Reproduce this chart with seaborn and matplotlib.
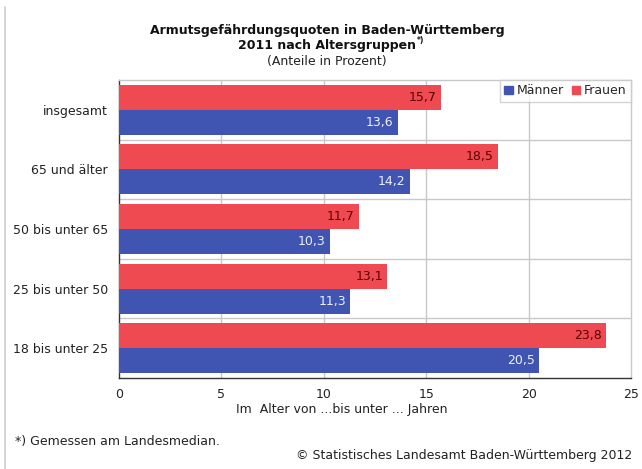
import matplotlib
matplotlib.use("Agg")
import matplotlib.pyplot as plt
import matplotlib.patches as mpatches
import matplotlib.lines as mlines
import seaborn as sns
import pandas as pd

categories = ["insgesamt", "65 und älter", "50 bis unter 65", "25 bis unter 50", "18 bis unter 25"]
frauen = [15.7, 18.5, 11.7, 13.1, 23.8]
maenner = [13.6, 14.2, 10.3, 11.3, 20.5]
xticks = [0, 5, 10, 15, 20, 25]

RED = "#EF4A51"
BLUE = "#3F55B1"

df = pd.DataFrame({
    "Gruppe": categories * 2,
    "Quote": frauen + maenner,
    "Geschlecht": ["Frauen"] * len(categories) + ["Männer"] * len(categories),
})

sns.set_style("white")
plt.rcParams["font.family"] = ["DejaVu Sans"]

fig = plt.figure(figsize=(6.42, 4.69), dpi=100)
W, H = 642, 469
ax = fig.add_axes([119 / W, 1 - 378 / H, (631 - 119) / W, (378 - 80) / H])

sns.barplot(data=df, y="Gruppe", x="Quote", hue="Geschlecht",
            hue_order=["Frauen", "Männer"], palette=[RED, BLUE],
            orient="h", width=0.84, ax=ax, legend=False, saturation=1,
            edgecolor="none", zorder=3)

ax.set_xlim(0, 25)
ax.set_ylim(len(categories) - 0.5, -0.5)
ax.set_xticks(xticks)
ax.set_xticklabels([str(t) for t in xticks], fontsize=9, color="#222222")
ax.tick_params(axis="y", labelsize=9, length=0, pad=8, labelcolor="#222222")
ax.tick_params(axis="x", direction="inout", length=6, width=1, color="#333333", pad=4)
ax.set_xlabel("")
ax.set_ylabel("")

# grid: vertical at ticks, horizontal at category boundaries
for xv in xticks[1:-1]:
    ax.axvline(xv, color="#C8C8C8", lw=1, zorder=1)
for yv in [0.5, 1.5, 2.5, 3.5]:
    ax.axhline(yv, color="#C8C8C8", lw=1, zorder=1)

for s in ["top", "right"]:
    ax.spines[s].set_color("#C8C8C8")
    ax.spines[s].set_linewidth(1)
for s in ["left", "bottom"]:
    ax.spines[s].set_color("#333333")
    ax.spines[s].set_linewidth(1)

# value labels inside bar ends
label_colors = ["#5A0000", "#EEEEF8"]
for cont, col in zip(ax.containers, label_colors):
    for p in cont.patches:
        v = p.get_width()
        ax.annotate(f"{v:.1f}".replace(".", ","),
                    xy=(v, p.get_y() + p.get_height() / 2),
                    xytext=(-3, 0), textcoords="offset points",
                    ha="right", va="center", fontsize=9, color=col, zorder=5)

# legend
handles = [mpatches.Patch(color=BLUE, label="Männer"), mpatches.Patch(color=RED, label="Frauen")]
leg = ax.legend(handles=handles, loc="upper right", ncol=2, fontsize=9,
                frameon=True, fancybox=False, borderaxespad=0.0,
                handlelength=0.7, handleheight=0.7, handletextpad=0.3,
                columnspacing=0.6, borderpad=0.35)
leg.get_frame().set_edgecolor("#C8C8C8")
leg.get_frame().set_linewidth(1)
leg.set_zorder(6)

# faint page border on the left
fig.add_artist(mlines.Line2D([5 / W, 5 / W], [0, 1 - 7 / H], color="#D0D0D0", lw=1.2,
                             transform=fig.transFigure))

# titles
fig.text(327 / W, 1 - 30 / H, "Armutsgefährdungsquoten in Baden-Württemberg",
         ha="center", va="center", fontsize=9, fontweight="bold", color="#111111")
fig.text(327 / W, 1 - 46 / H, "2011 nach Altersgruppen",
         ha="center", va="center", fontsize=9, fontweight="bold", color="#111111")
fig.text(417 / W, 1 - 41 / H, "*)", ha="left", va="center", fontsize=5.5,
         fontweight="bold", color="#111111")
fig.text(327 / W, 1 - 61 / H, "(Anteile in Prozent)",
         ha="center", va="center", fontsize=9, color="#222222")

fig.text(342 / W, 1 - 409 / H, "Im  Alter von ...bis unter ... Jahren",
         ha="center", va="center", fontsize=9, color="#222222")
fig.text(15 / W, 1 - 441 / H, "*) Gemessen am Landesmedian.",
         ha="left", va="center", fontsize=9, color="#222222")
fig.text(632 / W, 1 - 455 / H, "© Statistisches Landesamt Baden-Württemberg 2012",
         ha="right", va="center", fontsize=9, color="#222222")

fig.savefig("out.png", dpi=100)
